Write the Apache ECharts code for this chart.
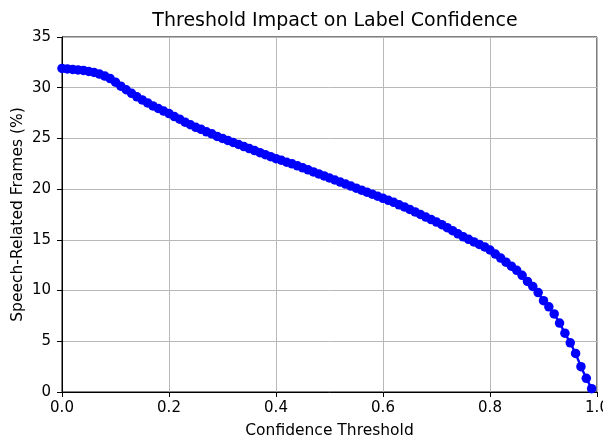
<!DOCTYPE html>
<html>
<head>
<meta charset="utf-8">
<script src="https://cdn.jsdelivr.net/npm/echarts@6/dist/echarts.min.js"></script>
<style>
html,body{margin:0;padding:0;background:#fff;}
#chart{width:603px;height:439px;}
</style>
</head>
<body>
<div id="chart"></div>
<script>
const thresholds = [
  0.00,0.01,0.02,0.03,0.04,0.05,0.06,0.07,0.08,0.09,
  0.10,0.11,0.12,0.13,0.14,0.15,0.16,0.17,0.18,0.19,
  0.20,0.21,0.22,0.23,0.24,0.25,0.26,0.27,0.28,0.29,
  0.30,0.31,0.32,0.33,0.34,0.35,0.36,0.37,0.38,0.39,
  0.40,0.41,0.42,0.43,0.44,0.45,0.46,0.47,0.48,0.49,
  0.50,0.51,0.52,0.53,0.54,0.55,0.56,0.57,0.58,0.59,
  0.60,0.61,0.62,0.63,0.64,0.65,0.66,0.67,0.68,0.69,
  0.70,0.71,0.72,0.73,0.74,0.75,0.76,0.77,0.78,0.79,
  0.80,0.81,0.82,0.83,0.84,0.85,0.86,0.87,0.88,0.89,
  0.90,0.91,0.92,0.93,0.94,0.95,0.96,0.97,0.98,0.99
];
const speechFrames = [
  31.9,31.85,31.8,31.75,31.7,31.6,31.5,31.35,31.15,30.9,
  30.55,30.15,29.8,29.45,29.1,28.8,28.5,28.2,27.95,27.7,
  27.45,27.15,26.9,26.6,26.35,26.1,25.9,25.65,25.45,25.2,
  25.0,24.8,24.6,24.4,24.2,24.0,23.8,23.6,23.4,23.2,
  23.0,22.85,22.65,22.5,22.3,22.1,21.9,21.7,21.5,21.3,
  21.1,20.9,20.7,20.5,20.3,20.1,19.9,19.7,19.5,19.3,
  19.1,18.9,18.7,18.45,18.25,18.0,17.75,17.5,17.25,17.0,
  16.75,16.5,16.2,15.9,15.6,15.3,15.05,14.8,14.55,14.3,
  14.0,13.6,13.2,12.8,12.4,12.0,11.5,10.9,10.4,9.8,
  9.0,8.4,7.7,6.8,5.8,4.85,3.8,2.5,1.35,0.33
];
const xTicks = [0.0,0.2,0.4,0.6,0.8,1.0];
const yTicks = [0,5,10,15,20,25,30,35];

const chart = echarts.init(document.getElementById('chart'), null, {renderer:'canvas'});
const font = 'DejaVu Sans';
chart.setOption({
  animation:false,
  backgroundColor:'#fff',
  title:{
    text:'Threshold Impact on Label Confidence',
    left:330, top:7, textAlign:'center',
    textStyle:{fontFamily:font,fontSize:19,fontWeight:'normal',color:'#000'}
  },
  grid:{left:62,right:6,top:37,bottom:47,outerBoundsMode:'none',containLabel:false,show:true,borderColor:'#000',borderWidth:1,backgroundColor:'transparent'},
  xAxis:{
    type:'value', min:xTicks[0], max:xTicks[xTicks.length-1], interval:0.2,
    name:'Confidence Threshold', nameLocation:'middle', nameGap:31, nameMoveOverlap:false,
    nameTextStyle:{fontFamily:font,fontSize:15.5,color:'#000'},
    axisLine:{show:true,lineStyle:{color:'#000',width:1}},
    axisTick:{show:true,inside:false,length:5,lineStyle:{color:'#000'}},
    axisLabel:{fontFamily:font,fontSize:15,color:'#000',margin:9,formatter:v=>v.toFixed(1)},
    splitLine:{show:true,lineStyle:{color:'#b8b8b8',width:1}}
  },
  yAxis:{
    type:'value', min:yTicks[0], max:yTicks[yTicks.length-1], interval:5,
    name:'Speech-Related Frames (%)', nameLocation:'middle', nameGap:36, nameRotate:90, nameMoveOverlap:false,
    nameTextStyle:{fontFamily:font,fontSize:15.5,color:'#000'},
    axisLine:{show:true,lineStyle:{color:'#000',width:1}},
    axisTick:{show:true,inside:false,length:5,lineStyle:{color:'#000'}},
    axisLabel:{fontFamily:font,fontSize:15,color:'#000',margin:11},
    splitLine:{show:true,lineStyle:{color:'#b8b8b8',width:1}}
  },
  series:[{
    type:'line',
    data:thresholds.map((t,i)=>[t,speechFrames[i]]),
    symbol:'circle', symbolSize:9.5, showSymbol:true,
    itemStyle:{color:'#0000ff'},
    lineStyle:{color:'#0000ff',width:2.4},
    clip:true
  }]
});
</script>
</body>
</html>
